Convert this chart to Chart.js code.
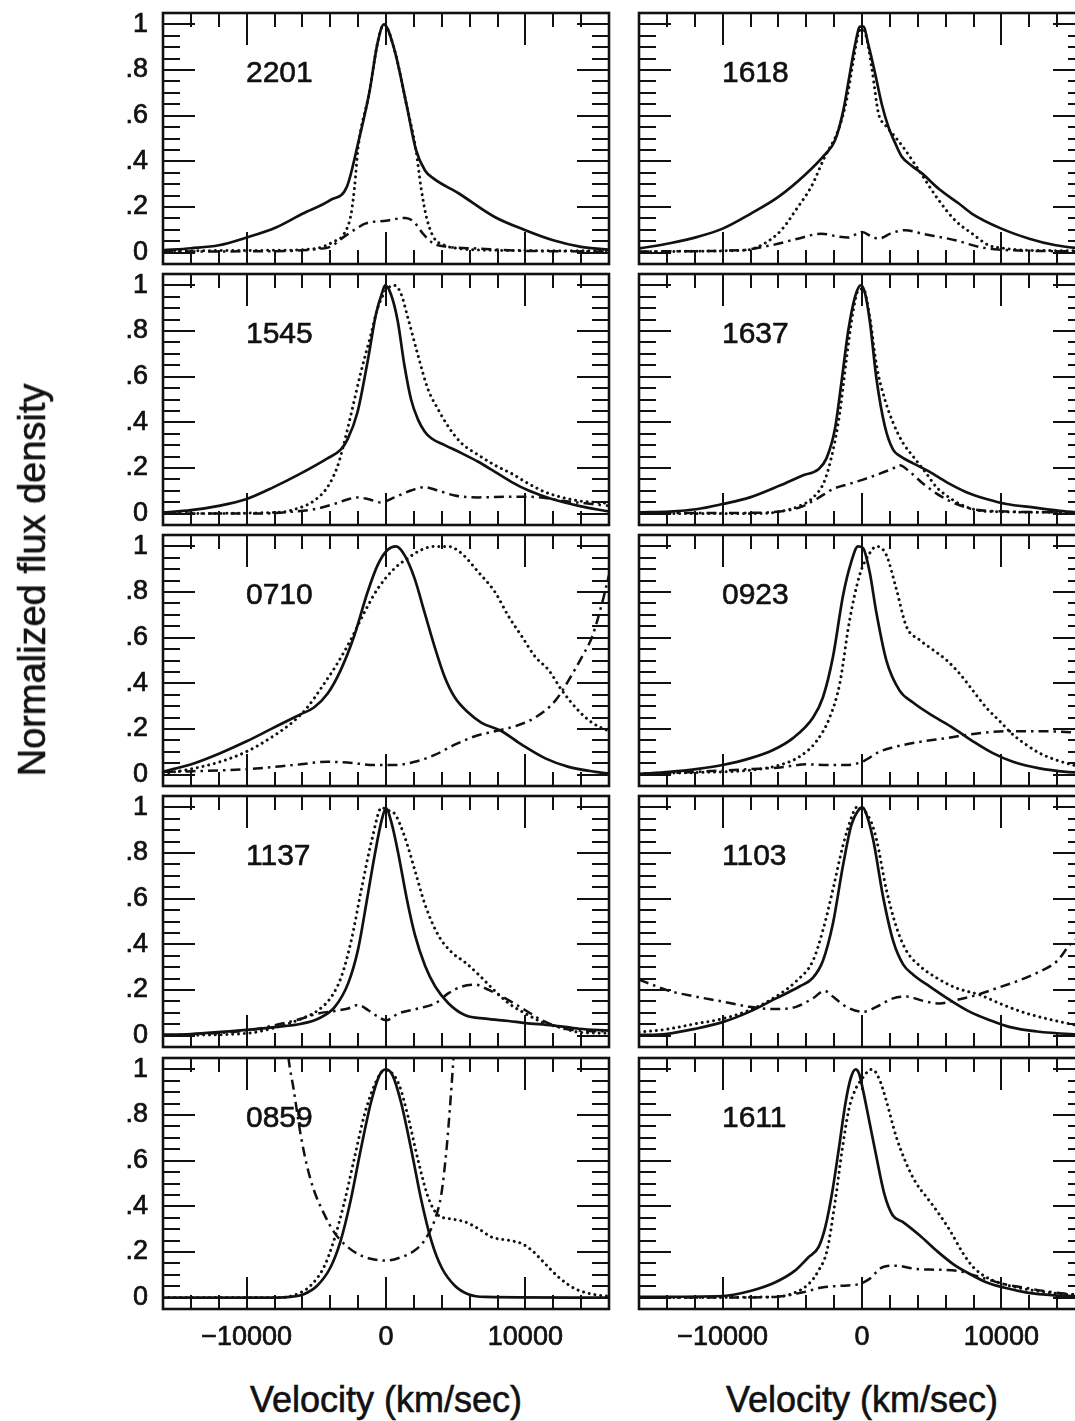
<!DOCTYPE html>
<html>
<head>
<meta charset="utf-8">
<title>Normalized line profiles</title>
<script src="https://cdn.jsdelivr.net/npm/chart.js@4.4.1/dist/chart.umd.min.js"></script>
<style>
  html, body { margin: 0; padding: 0; background: #fff; }
  body {
    width: 1075px; height: 1421px; overflow: hidden; position: relative;
    font-family: "Liberation Sans", Arial, Helvetica, sans-serif; color: #111;
  }
  .panel { position: absolute; }
  .tag, .xtitle, .ytitle { -webkit-text-stroke: 0.6px #111; }
  .tag { position: absolute; font-size: 30px; line-height: 30px; white-space: nowrap; }
  .xtitle { position: absolute; width: 446px; text-align: center; font-size: 36px; line-height: 36px; white-space: nowrap; }
  .ytitle { position: absolute; font-size: 38px; line-height: 38px; white-space: nowrap;
            transform: translate(-50%, -50%) rotate(-90deg); }
</style>
</head>
<body>
<script>
// ---- data: [velocity km/s, normalized flux] ----

const panelNames = ['2201', '1618', '1545', '1637', '0710', '0923', '1137', '1103', '0859', '1611'];

// axis ticks
const xTickVals = [-10000, 0, 10000];
const xTickLabels = ['\u221210000', '0', '10000'];
const yTickVals = [0, 0.2, 0.4, 0.6, 0.8, 1];
const yTickLabels = ['0', '.2', '.4', '.6', '.8', '1'];
const xMinorTicks = [-14000, -12000, -8000, -6000, -4000, -2000, 2000, 4000, 6000, 8000, 12000, 14000];
const xMajorTicks = [-10000, 0, 10000];
const yMinorTicks = [0.05, 0.1, 0.15, 0.25, 0.3, 0.35, 0.45, 0.5, 0.55, 0.65, 0.7, 0.75, 0.85, 0.9, 0.95];
const yMajorTicks = [0, 0.2, 0.4, 0.6, 0.8, 1];

// 2201
const solid2201 = [[-16000,0.01],[-14000,0.019],[-12000,0.032],[-10000,0.066],[-7900,0.11],[-6000,0.17],[-4000,0.23],[-2800,0.29],[-2000,0.48],[-1200,0.70],[-600,0.92],[-150,1.0],[600,0.89],[1500,0.64],[2150,0.45],[2800,0.36],[3400,0.325],[5200,0.26],[7800,0.156],[10000,0.098],[12000,0.054],[14000,0.025],[16000,0.013]];
const dotted2201 = [[-16000,0.008],[-8000,0.01],[-5000,0.018],[-3800,0.047],[-3000,0.083],[-2500,0.17],[-2250,0.29],[-2000,0.46],[-1200,0.70],[-600,0.92],[-150,1.0],[600,0.89],[1500,0.64],[2150,0.45],[2500,0.29],[2900,0.156],[3400,0.069],[4200,0.032],[5200,0.018],[7800,0.01],[16000,0.008]];
const dashDot2201 = [[-16000,0.005],[-8000,0.006],[-5000,0.015],[-4000,0.025],[-3000,0.07],[-2000,0.11],[-1500,0.127],[0,0.14],[1400,0.152],[2000,0.135],[2650,0.083],[3400,0.04],[4500,0.025],[6500,0.018],[10400,0.007],[16000,0.005]];

// 1618
const solid1618 = [[-16000,0.018],[-13700,0.042],[-11800,0.069],[-10000,0.105],[-8000,0.17],[-6000,0.244],[-4100,0.34],[-2700,0.427],[-1950,0.49],[-1350,0.62],[-870,0.785],[-500,0.91],[-140,0.99],[100,0.99],[460,0.91],[940,0.785],[1420,0.65],[1900,0.55],[2380,0.48],[2860,0.42],[3580,0.38],[4300,0.347],[5500,0.28],[6950,0.215],[7900,0.17],[10000,0.105],[12000,0.061],[13900,0.032],[16000,0.016]];
const dotted1618 = [[-16000,0.005],[-8400,0.01],[-7000,0.04],[-5800,0.098],[-4600,0.2],[-3630,0.29],[-2670,0.42],[-1700,0.537],[-1100,0.67],[-625,0.84],[-260,0.96],[0,0.98],[250,0.96],[700,0.81],[1180,0.61],[1660,0.56],[2380,0.507],[3100,0.45],[4300,0.34],[5500,0.23],[6700,0.14],[7900,0.083],[9100,0.032],[10300,0.018],[12000,0.01],[16000,0.008]];
const dashDot1618 = [[-16000,0.005],[-8900,0.01],[-6500,0.032],[-4600,0.061],[-2900,0.083],[-1700,0.07],[-1000,0.066],[0,0.09],[700,0.07],[1180,0.061],[2140,0.086],[3100,0.098],[4300,0.083],[6700,0.054],[8400,0.025],[9800,0.013],[16000,0.005]];

// 1545
const solid1545 = [[-16000,0.005],[-14000,0.015],[-12000,0.034],[-10000,0.064],[-8060,0.116],[-6140,0.175],[-4200,0.242],[-3250,0.28],[-2770,0.324],[-2050,0.443],[-1320,0.666],[-720,0.874],[-240,0.975],[-60,1.0],[360,0.96],[840,0.844],[1320,0.65],[1800,0.50],[2290,0.413],[2770,0.36],[3250,0.33],[4210,0.30],[5410,0.265],[6620,0.227],[7820,0.183],[9020,0.138],[10230,0.101],[11900,0.064],[13830,0.034],[16000,0.009]];
const dotted1545 = [[-16000,0.0],[-7800,0.005],[-6140,0.027],[-5170,0.056],[-4200,0.116],[-3490,0.205],[-3130,0.28],[-2530,0.43],[-1800,0.62],[-1080,0.785],[-600,0.90],[0,0.978],[600,1.0],[1080,0.963],[1560,0.86],[2290,0.695],[3000,0.547],[3730,0.458],[4450,0.383],[5410,0.309],[6620,0.257],[7820,0.212],[9020,0.175],[10230,0.131],[11430,0.094],[12630,0.071],[13830,0.056],[15030,0.049],[16000,0.045]];
const dashDot1545 = [[-16000,0.0],[-9000,0.0],[-6600,0.009],[-5170,0.019],[-3730,0.042],[-2770,0.062],[-2050,0.071],[-1320,0.064],[-360,0.049],[600,0.071],[1800,0.101],[2770,0.116],[3730,0.101],[4930,0.079],[6620,0.071],[9020,0.074],[10230,0.074],[11430,0.068],[12630,0.056],[14310,0.045],[16000,0.034]];

// 1637
const solid1637 = [[-16000,0.005],[-13800,0.009],[-11900,0.019],[-10000,0.042],[-8040,0.071],[-5900,0.123],[-4220,0.168],[-3150,0.193],[-2550,0.242],[-1950,0.368],[-1470,0.577],[-990,0.80],[-510,0.948],[-100,1.0],[200,0.97],[560,0.844],[1040,0.59],[1640,0.383],[2230,0.28],[2710,0.253],[3670,0.22],[4860,0.183],[6060,0.138],[7490,0.094],[8930,0.064],[10360,0.042],[12270,0.027],[14180,0.012],[16000,0.003]];
const dotted1637 = [[-16000,0.0],[-7560,0.0],[-5900,0.009],[-4460,0.034],[-3500,0.071],[-2670,0.146],[-2070,0.28],[-1590,0.443],[-1110,0.68],[-630,0.89],[-270,0.978],[80,0.985],[560,0.86],[1040,0.65],[1640,0.50],[2230,0.398],[2950,0.309],[3670,0.25],[4630,0.175],[5340,0.116],[6060,0.079],[7020,0.042],[7970,0.019],[9160,0.009],[16000,0.005]];
const dashDot1637 = [[-16000,0.003],[-8760,0.003],[-5900,0.009],[-4460,0.027],[-3260,0.064],[-2070,0.108],[-870,0.131],[80,0.149],[1280,0.175],[2230,0.198],[2710,0.212],[3430,0.183],[4390,0.131],[5580,0.079],[6780,0.042],[7970,0.019],[10360,0.009],[16000,0.005]];

// 0710
const solid0710 = [[-16000,0.012],[-13800,0.049],[-11900,0.094],[-10000,0.146],[-8300,0.198],[-7100,0.235],[-6140,0.264],[-5170,0.294],[-4200,0.354],[-3250,0.458],[-2290,0.606],[-1320,0.80],[-600,0.918],[120,0.985],[720,1.0],[1320,0.963],[2050,0.86],[2770,0.71],[3490,0.56],[4210,0.428],[4930,0.339],[5900,0.272],[6860,0.227],[8300,0.19],[9740,0.131],[11430,0.071],[13100,0.034],[15030,0.012],[16000,0.004]];
const dotted0710 = [[-16000,0.004],[-13800,0.027],[-11900,0.056],[-10000,0.101],[-8300,0.16],[-6600,0.235],[-5650,0.294],[-4690,0.376],[-3490,0.487],[-2530,0.591],[-1560,0.71],[-600,0.814],[600,0.903],[1560,0.948],[2530,0.985],[3490,1.0],[4450,1.0],[5410,0.97],[6620,0.888],[7820,0.80],[8780,0.695],[9740,0.606],[10700,0.517],[11670,0.458],[12630,0.368],[13830,0.279],[14800,0.227],[16000,0.19]];
const dashDot0710 = [[-16000,0.012],[-13800,0.015],[-10000,0.024],[-6600,0.042],[-4200,0.056],[-2770,0.053],[-840,0.042],[600,0.042],[2050,0.056],[3490,0.086],[4930,0.131],[6380,0.168],[7820,0.19],[9260,0.212],[10700,0.25],[12150,0.324],[13100,0.413],[14070,0.517],[14800,0.606],[15520,0.755],[16000,0.874]];

// 0923
const solid0923 = [[-16000,0.003],[-13800,0.012],[-11900,0.024],[-10000,0.042],[-8050,0.071],[-6380,0.108],[-4950,0.16],[-3510,0.25],[-2800,0.339],[-2080,0.517],[-1360,0.785],[-765,0.933],[-290,1.0],[70,0.993],[550,0.888],[1030,0.71],[1740,0.502],[2700,0.368],[3660,0.316],[5090,0.257],[6520,0.205],[7960,0.146],[9390,0.094],[10830,0.056],[12740,0.027],[14650,0.012],[16000,0.008]];
const dotted0923 = [[-16000,0.004],[-11900,0.009],[-8050,0.019],[-5900,0.042],[-4470,0.079],[-3270,0.146],[-2320,0.25],[-1600,0.398],[-880,0.68],[-170,0.874],[550,0.97],[1030,1.0],[1740,0.963],[2460,0.814],[3180,0.65],[4130,0.59],[5090,0.547],[6050,0.502],[7000,0.443],[7960,0.368],[8910,0.294],[9870,0.235],[10830,0.175],[11780,0.131],[12740,0.094],[13930,0.064],[15130,0.042],[16000,0.03]];
const dashDot0923 = [[-16000,0.0],[-11900,0.012],[-8050,0.024],[-5900,0.031],[-4000,0.045],[-2560,0.042],[-1120,0.042],[0,0.056],[1270,0.101],[2460,0.123],[4130,0.143],[6050,0.16],[7960,0.178],[10350,0.19],[12740,0.19],[16000,0.183]];

// 1137
const solid1137 = [[-16000,0.004],[-14000,0.007],[-10000,0.025],[-8000,0.037],[-6070,0.052],[-4870,0.074],[-3670,0.126],[-2710,0.23],[-2000,0.379],[-1390,0.587],[-800,0.795],[-310,0.944],[0,0.996],[410,0.929],[890,0.795],[1490,0.60],[2090,0.438],[2810,0.305],[3530,0.215],[4490,0.141],[5690,0.089],[7130,0.074],[8800,0.064],[10000,0.055],[11930,0.045],[13850,0.03],[16000,0.022]];
const dotted1137 = [[-16000,0.0],[-10000,0.01],[-8000,0.034],[-6070,0.074],[-4870,0.111],[-3910,0.171],[-3190,0.26],[-2470,0.423],[-1750,0.646],[-1030,0.854],[-300,1.0],[0,0.99],[650,0.97],[1370,0.866],[2090,0.72],[2810,0.572],[3770,0.438],[4730,0.364],[5690,0.32],[6650,0.267],[7610,0.208],[8810,0.141],[10000,0.097],[11200,0.059],[12410,0.037],[13850,0.015],[16000,0.01]];
const dashDot1137 = [[-16000,0.0],[-10000,0.022],[-8000,0.045],[-6070,0.074],[-4870,0.097],[-3670,0.108],[-2710,0.119],[-2000,0.134],[-1270,0.111],[-550,0.082],[0,0.067],[890,0.097],[2330,0.119],[3530,0.141],[4490,0.186],[5450,0.215],[6410,0.223],[7370,0.20],[8570,0.163],[10000,0.111],[11200,0.067],[12410,0.037],[13850,0.022],[16000,0.019]];

// 1103
const solid1103 = [[-16000,0.003],[-14100,0.007],[-11930,0.03],[-10000,0.059],[-8090,0.104],[-6170,0.163],[-4490,0.215],[-3530,0.253],[-2810,0.327],[-2090,0.49],[-1370,0.743],[-770,0.921],[-170,0.995],[0,1.0],[190,0.99],[790,0.862],[1510,0.609],[2230,0.416],[2950,0.312],[3670,0.267],[4870,0.215],[6310,0.156],[7750,0.104],[9190,0.067],[10630,0.037],[12550,0.018],[14950,0.007],[16000,0.005]];
const dotted1103 = [[-16000,0.015],[-14100,0.027],[-11930,0.052],[-10000,0.074],[-8090,0.111],[-6170,0.171],[-4730,0.238],[-3530,0.327],[-2810,0.46],[-2090,0.639],[-1370,0.832],[-650,0.973],[-400,1.0],[550,0.951],[1030,0.862],[1750,0.639],[2470,0.475],[3190,0.371],[4150,0.305],[5350,0.253],[6790,0.208],[8470,0.178],[10150,0.134],[11830,0.097],[13750,0.067],[15430,0.045],[16000,0.04]];
const dashDot1103 = [[-16000,0.245],[-15050,0.223],[-13850,0.196],[-11930,0.171],[-10000,0.149],[-8090,0.126],[-6170,0.116],[-4730,0.126],[-3530,0.163],[-2690,0.196],[-2090,0.171],[-1130,0.126],[70,0.104],[1030,0.126],[2230,0.163],[3190,0.171],[4390,0.152],[5590,0.141],[6790,0.156],[8230,0.178],[9670,0.208],[11110,0.238],[12550,0.275],[14000,0.327],[14950,0.401],[16000,0.45]];

// 0859
const solid0859 = [[-16000,0.0],[-8070,0.0],[-6870,0.003],[-5900,0.015],[-4940,0.052],[-3980,0.133],[-3250,0.25],[-2530,0.428],[-1810,0.649],[-1080,0.855],[-480,0.973],[0,1.0],[480,0.973],[1080,0.855],[1810,0.649],[2530,0.428],[3250,0.25],[3980,0.133],[4940,0.052],[5900,0.015],[7110,0.003],[16000,0.0]];
const dotted0859 = [[-16000,0.0],[-7600,0.0],[-6390,0.015],[-5420,0.052],[-4460,0.133],[-3740,0.25],[-3010,0.413],[-2290,0.605],[-1570,0.796],[-840,0.929],[-120,0.996],[360,0.988],[960,0.929],[1570,0.796],[2290,0.605],[3010,0.442],[3740,0.361],[4460,0.347],[5660,0.332],[6630,0.302],[7590,0.265],[8800,0.251],[9760,0.236],[10480,0.206],[11440,0.147],[12410,0.088],[13620,0.037],[14820,0.015],[15780,0.007],[16000,0.006]];
const dashDot0859 = [[-7150,1.15],[-6990,1.047],[-6630,0.914],[-6150,0.723],[-5660,0.575],[-5180,0.472],[-4460,0.369],[-3740,0.288],[-3010,0.236],[-2050,0.192],[-1080,0.17],[0,0.162],[1080,0.177],[2050,0.206],[2770,0.251],[3490,0.339],[3980,0.457],[4340,0.649],[4580,0.826],[4820,1.03],[4950,1.15]];

// 1611
const solid1611 = [[-16000,0.003],[-10000,0.007],[-7950,0.03],[-6250,0.066],[-4810,0.118],[-3840,0.177],[-3120,0.221],[-2630,0.31],[-2150,0.457],[-1670,0.649],[-1180,0.855],[-820,0.959],[-460,1.0],[-200,0.98],[0,0.93],[500,0.78],[990,0.63],[1590,0.457],[2200,0.361],[2920,0.332],[4130,0.273],[5340,0.206],[6540,0.147],[7750,0.103],[8960,0.066],[10170,0.044],[11860,0.022],[13790,0.01],[15480,0.006],[16000,0.005]];
const dotted1611 = [[-16000,0.0],[-6250,0.003],[-4810,0.022],[-3840,0.059],[-3120,0.118],[-2510,0.206],[-1910,0.428],[-1420,0.649],[-940,0.826],[-460,0.914],[0,0.959],[510,0.996],[750,1.0],[1230,0.959],[1710,0.87],[2440,0.708],[3160,0.59],[3890,0.501],[4610,0.442],[5340,0.383],[6300,0.295],[7270,0.192],[7990,0.133],[8960,0.088],[10170,0.059],[11370,0.041],[12580,0.029],[14030,0.018],[16000,0.007]];
const dashDot1611 = [[-16000,0.0],[-10000,0.0],[-6250,0.003],[-4320,0.022],[-2870,0.044],[-1420,0.052],[-220,0.059],[510,0.081],[1470,0.133],[2440,0.14],[3890,0.125],[5340,0.122],[6790,0.118],[7750,0.103],[8960,0.081],[10170,0.059],[11610,0.044],[13060,0.029],[15000,0.015],[16000,0.012]];

const panelSeries = [
  [solid2201, dotted2201, dashDot2201],
  [solid1618, dotted1618, dashDot1618],
  [solid1545, dotted1545, dashDot1545],
  [solid1637, dotted1637, dashDot1637],
  [solid0710, dotted0710, dashDot0710],
  [solid0923, dotted0923, dashDot0923],
  [solid1137, dotted1137, dashDot1137],
  [solid1103, dotted1103, dashDot1103],
  [solid0859, dotted0859, dashDot0859],
  [solid1611, dotted1611, dashDot1611]
];

// ---- layout ----
const colLeft = [163, 639];
const rowTop = [13, 274, 535, 796, 1058];
const plotW = 446;
const plotH = 251;
const ink = '#111';
const fontFamily = '"Liberation Sans", Arial, Helvetica, sans-serif';

const lineStyles = [
  { borderWidth: 2.7, borderDash: [], cap: 'butt' },            // solid
  { borderWidth: 3.0, borderDash: [0.01, 5.8], cap: 'round' },  // dotted
  { borderWidth: 2.5, borderDash: [10, 5, 2.5, 5], cap: 'butt' } // dash-dot
];

Chart.defaults.font.family = fontFamily;
Chart.defaults.color = ink;

// frame + inward ticks on all four sides
const frameTicks = {
  id: 'frameTicks',
  afterDatasetsDraw(chart) {
    const { ctx, chartArea: { left, right, top, bottom }, scales: { x, y } } = chart;
    ctx.save();
    ctx.strokeStyle = ink;
    ctx.lineWidth = 2;
    ctx.lineCap = 'butt';
    ctx.setLineDash([]);
    ctx.beginPath();
    const xt = (vals, len) => vals.forEach(v => {
      const px = Math.round(x.getPixelForValue(v));
      ctx.moveTo(px, top); ctx.lineTo(px, top + len);
      ctx.moveTo(px, bottom); ctx.lineTo(px, bottom - len);
    });
    const yt = (vals, len) => vals.forEach(v => {
      const py = Math.round(y.getPixelForValue(v));
      ctx.moveTo(left, py); ctx.lineTo(left + len, py);
      ctx.moveTo(right, py); ctx.lineTo(right - len, py);
    });
    xt(xMinorTicks, 14);
    xt(xMajorTicks, 32);
    yt(yMinorTicks, 17);
    yt(yMajorTicks, 32);
    ctx.stroke();
    ctx.lineWidth = 2.6;
    ctx.strokeRect(left, top, right - left, bottom - top);
    ctx.restore();
  }
};

panelNames.forEach((name, i) => {
  const r = Math.floor(i / 2);
  const c = i % 2;
  const isLeft = c === 0;
  const isBottom = r === 4;

  const canvasLeft = isLeft ? 0 : 625;
  const canvasW = isLeft ? 625 : 475;
  const padL = isLeft ? 0 : colLeft[1] - canvasLeft;
  const padR = canvasW - (colLeft[c] - canvasLeft) - plotW;
  const bottomRoom = isBottom ? 60 : 12;
  const canvasTop = rowTop[r] - 12;
  const canvasH = 12 + plotH + bottomRoom;

  const box = document.createElement('div');
  box.className = 'panel';
  box.style.left = canvasLeft + 'px';
  box.style.top = canvasTop + 'px';
  const cv = document.createElement('canvas');
  cv.width = canvasW;
  cv.height = canvasH;
  cv.style.width = canvasW + 'px';
  cv.style.height = canvasH + 'px';
  box.appendChild(cv);
  document.body.appendChild(box);

  const datasets = panelSeries[i].map((pts, k) => ({
    data: pts.map(p => ({ x: p[0], y: p[1] })),
    borderColor: ink,
    borderWidth: lineStyles[k].borderWidth,
    borderDash: lineStyles[k].borderDash,
    borderCapStyle: lineStyles[k].cap,
    borderJoinStyle: 'round',
    cubicInterpolationMode: 'monotone',
    pointRadius: 0,
    fill: false
  }));

  new Chart(cv, {
    type: 'line',
    data: { datasets },
    options: {
      responsive: false,
      animation: false,
      devicePixelRatio: 1,
      events: [],
      layout: { padding: { left: padL, right: padR, top: 12, bottom: isBottom ? 0 : 12 } },
      plugins: { legend: { display: false }, tooltip: { enabled: false } },
      scales: {
        x: {
          type: 'linear',
          min: -16000,
          max: 16000,
          display: isBottom,
          grid: { display: false, drawTicks: false },
          border: { display: false },
          ticks: {
            font: { size: 27 },
            color: ink,
            textStrokeColor: ink,
            textStrokeWidth: 0.7,
            padding: 12,
            maxRotation: 0,
            autoSkip: false,
            callback: (v, idx) => xTickLabels[idx]
          },
          afterBuildTicks: s => { s.ticks = xTickVals.map(v => ({ value: v })); },
          afterFit: isBottom ? (s => { s.height = bottomRoom; s.paddingLeft = 0; s.paddingRight = 0; }) : undefined
        },
        y: {
          type: 'linear',
          min: -0.05,
          max: 1.05,
          display: isLeft,
          grid: { display: false, drawTicks: false },
          border: { display: false },
          ticks: {
            font: { size: 27 },
            color: ink,
            textStrokeColor: ink,
            textStrokeWidth: 0.7,
            padding: 15,
            autoSkip: false,
            callback: (v, idx) => yTickLabels[idx]
          },
          afterBuildTicks: s => { s.ticks = yTickVals.map(v => ({ value: v })); },
          afterFit: isLeft ? (s => { s.width = colLeft[0]; s.paddingTop = 0; s.paddingBottom = 0; }) : undefined
        }
      }
    },
    plugins: [frameTicks]
  });

  // object label inside each panel
  const tag = document.createElement('div');
  tag.className = 'tag';
  tag.textContent = name;
  tag.style.left = (colLeft[c] + 83) + 'px';
  tag.style.top = (rowTop[r] + 44) + 'px';
  document.body.appendChild(tag);
});

// axis titles
colLeft.forEach(x0 => {
  const t = document.createElement('div');
  t.className = 'xtitle';
  t.textContent = 'Velocity (km/sec)';
  t.style.left = x0 + 'px';
  t.style.top = '1382px';
  document.body.appendChild(t);
});

const yTitle = document.createElement('div');
yTitle.className = 'ytitle';
yTitle.textContent = 'Normalized flux density';
yTitle.style.left = '32px';
yTitle.style.top = '580px';
document.body.appendChild(yTitle);
</script>
</body>
</html>
